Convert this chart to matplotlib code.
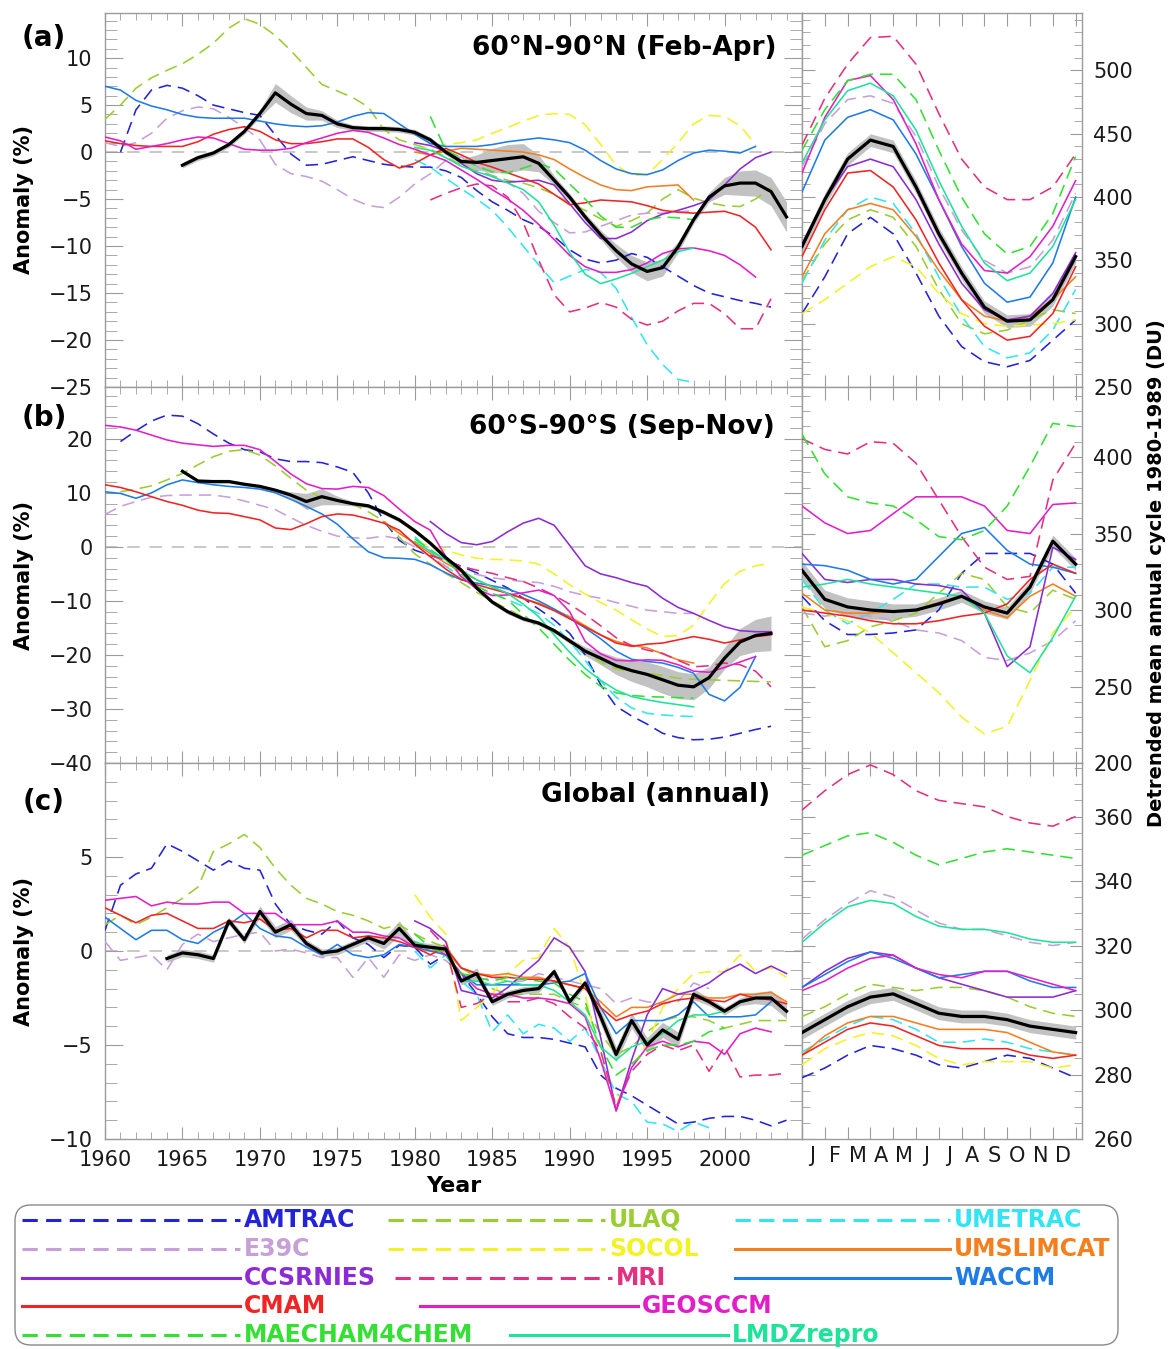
import numpy as np
import matplotlib.pyplot as plt
from matplotlib.patches import FancyBboxPatch
from matplotlib.ticker import MultipleLocator, FixedLocator, NullFormatter

plt.rcParams['font.family'] = ['DejaVu Sans']
plt.rcParams['lines.scale_dashes'] = False

# ---------------------------------------------------------------- data
models = ["AMTRAC", "ULAQ", "UMETRAC", "E39C", "SOCOL", "UMSLIMCAT", "CCSRNIES",
          "MRI", "WACCM", "CMAM", "GEOSCCM", "MAECHAM4CHEM", "LMDZrepro"]
colors = ["#2323d8", "#9acd32", "#33e5f2", "#c7a0d8", "#f2f226", "#f47f1f", "#8c2bd6",
          "#e3307f", "#1f7be6", "#f02424", "#e21ec8", "#33e033", "#1fe39a"]
dashed = [True, True, True, True, True, False, False, True, False, False, False, True, False]

# (a) 60N-90N Feb-Apr anomaly (%), first year of each model series
a_start = [1961, 1960, 1980, 1960, 1980, 1980, 1980, 1981, 1960, 1960, 1960, 1981, 1980]
a_amtrac = [0.0, 4.5, 6.6, 7.1, 6.8, 6.0, 5.0, 4.6, 4.2, 3.9, 1.8, -0.2, -1.4, -1.3, -0.9, -0.5, -0.9, -1.3,
            -1.5, -1.6, -1.6, -2.0, -2.7, -4.1, -5.3, -6.2, -7.2, -7.9, -9.0, -10.4, -11.4, -11.8, -11.5,
            -10.8, -11.2, -12.2, -13.2, -14.2, -15.0, -15.4, -15.8, -16.1, -16.5]
a_ulaq = [3.5, 5.0, 6.8, 7.9, 8.7, 9.4, 10.4, 11.6, 13.2, 14.2, 13.6, 12.4, 10.8, 9.0, 7.2, 6.5, 5.8, 4.8,
          2.4, 1.3, 0.8, 0.3, -0.5, -1.4, -2.0, -2.5, -3.0, -3.3, -3.8, -4.5, -5.4, -6.2, -7.1, -7.9, -7.3,
          -6.5, -5.0, -4.0, -4.9, -5.4, -5.7, -5.8, -5.0, -3.8]
a_umetrac = [-0.8, -1.6, -2.8, -3.9, -5.0, -6.2, -8.0, -10.0, -12.0, -13.9, -13.2, -12.5, -12.8, -14.5,
             -17.6, -20.5, -22.6, -24.2, -24.5]
a_e39c = [1.0, 0.6, 1.0, 2.0, 3.6, 4.4, 4.8, 4.6, 3.7, 2.6, 1.3, -1.3, -2.3, -2.6, -3.1, -4.0, -5.0, -5.7,
          -5.9, -4.8, -3.4, -2.3, -0.9, -0.5, -1.5, -2.6, -3.2, -4.4, -6.3, -7.5, -8.6, -8.5, -7.9, -7.3,
          -6.7, -6.5, -6.5, -6.4, -6.2]
a_socol = [0.3, 0.5, 0.8, 1.0, 1.3, 2.0, 2.6, 3.3, 3.9, 4.1, 4.0, 2.9, 0.8, -1.4, -2.5, -2.4, -0.8, 1.0,
           3.0, 3.9, 3.8, 2.8, 0.8]
a_umslimcat = [0.0, -0.3, 0.1, 0.4, 0.3, 0.2, 0.1, 0.0, -0.3, -0.8, -1.8, -2.7, -3.5, -4.0, -4.1, -3.7,
               -3.6, -3.5, -5.1]
a_ccsrnies = [1.0, 0.7, 0.1, -1.2, -2.3, -3.0, -3.2, -3.1, -3.0, -3.5, -5.5, -7.5, -9.2, -9.2, -8.5, -7.3,
              -6.6, -6.2, -5.7, -5.1, -3.5, -1.8, -0.6, 0.0]
a_mri = [-5.1, -4.4, -3.8, -3.4, -3.6, -4.8, -7.5, -11.5, -15.2, -17.0, -16.6, -16.0, -16.5, -17.8, -18.4,
         -18.0, -16.9, -16.1, -16.1, -17.2, -18.8, -18.8, -15.6]
a_waccm = [7.0, 6.6, 5.5, 4.9, 4.5, 4.0, 3.7, 3.6, 3.6, 3.6, 3.3, 3.0, 2.8, 2.7, 2.8, 3.2, 3.8, 4.2, 4.1,
           3.0, 1.9, 0.9, 0.6, 0.6, 0.6, 0.8, 1.1, 1.3, 1.5, 1.3, 1.0, 0.2, -0.9, -1.8, -2.3, -2.4, -1.9,
           -0.9, -0.1, 0.2, 0.1, -0.1, 0.6]
a_cmam = [1.2, 0.9, 0.7, 0.6, 0.6, 0.6, 1.1, 1.9, 2.4, 2.7, 2.2, 1.3, 0.9, 0.9, 1.1, 1.4, 1.4, 0.5, -0.8,
          -1.7, -1.2, -0.3, 0.4, -0.3, -1.1, -1.6, -2.2, -2.8, -3.4, -4.5, -5.6, -5.4, -5.1, -5.2, -5.3,
          -5.7, -6.2, -6.4, -6.5, -6.4, -6.3, -6.8, -8.0, -10.4]
a_geosccm = [1.6, 1.2, 0.3, 0.6, 0.9, 1.3, 1.6, 1.5, 0.9, 0.3, 0.2, 0.2, 0.4, 1.0, 1.5, 2.0, 2.3, 2.1, 1.5,
             0.8, 0.3, -0.3, -0.9, -1.9, -2.9, -4.0, -5.0, -6.2, -7.7, -9.3, -11.0, -12.2, -12.8, -12.8,
             -12.5, -11.8, -10.8, -10.3, -10.2, -10.5, -11.0, -12.0, -13.3]
a_maecham = [3.8, 0.2, -0.6, -1.5, -2.1, -2.2, -1.7, -1.2, -1.8, -3.4, -5.0, -6.8, -8.0, -8.0, -7.2, -6.9,
             -7.0, -7.2]
a_lmdz = [0.5, 0.2, -0.6, -1.5, -2.1, -2.6, -3.3, -4.0, -5.3, -7.8, -10.7, -13.0, -14.0, -13.5, -12.9,
          -12.2, -11.5, -10.6, -10.2]
a_obs_start = 1965
a_obs = [-1.4, -0.6, -0.1, 0.8, 2.2, 4.1, 6.3, 5.1, 4.1, 3.9, 3.0, 2.6, 2.5, 2.5, 2.4, 2.1, 1.3, 0.0, -1.0,
         -1.1, -0.9, -0.7, -0.5, -1.2, -3.0, -4.8, -6.9, -8.8, -10.5, -11.9, -12.7, -12.3, -10.1, -7.2,
         -4.8, -3.6, -3.3, -3.3, -4.2, -6.9]
a_obs_err = [0.3, 0.3, 0.3, 0.3, 0.3, 0.4, 1.0, 0.9, 0.7, 0.5, 0.4, 0.3, 0.3, 0.3, 0.3, 0.3, 0.3, 0.3, 0.3,
             0.8, 1.3, 1.5, 1.4, 0.9, 0.5, 0.4, 0.4, 0.5, 0.7, 0.9, 1.0, 0.9, 0.6, 0.4, 0.5, 0.9, 1.3, 1.4,
             1.5, 1.6]

# (b) 60S-90S Sep-Nov anomaly (%)
b_start = [1961, 1961, 1980, 1960, 1980, 1978, 1981, 1981, 1960, 1960, 1960, 1980, 1980]
b_amtrac = [19.5, 21.5, 23.3, 24.4, 24.2, 22.8, 20.9, 19.2, 18.0, 17.6, 16.3, 15.8, 15.8, 15.6, 14.8, 13.8,
            10.0, 4.8, 1.2, -0.6, -1.6, -2.4, -3.6, -4.8, -6.2, -7.6, -9.5, -11.5, -13.5, -16.0, -20.0,
            -25.5, -29.5, -31.3, -32.8, -34.5, -35.3, -35.7, -35.6, -35.2, -34.5, -33.8, -33.2]
b_ulaq = [10.2, 10.7, 11.3, 12.4, 13.6, 15.2, 16.7, 17.7, 18.0, 17.0, 15.0, 12.7, 10.5, 9.1, 8.5, 7.9,
          6.5, 4.8, 1.8, -1.3, -3.2, -4.9, -6.6, -8.4, -10.0, -11.5, -13.0, -14.3, -15.8, -17.6, -19.4,
          -21.3, -22.6, -23.1, -23.4, -23.8, -24.3, -24.5, -24.6, -24.7, -24.8, -24.9, -25.0]
b_umetrac = [1.9, -0.8, -3.6, -5.5, -7.3, -8.6, -9.8, -11.0, -12.3, -14.5, -17.5, -21.0, -24.8, -27.8,
             -29.8, -30.8, -31.1, -31.3, -31.4]
b_e39c = [6.0, 7.5, 8.4, 9.2, 9.5, 9.6, 9.6, 9.6, 9.2, 8.5, 7.7, 6.9, 5.4, 4.0, 2.9, 2.0, 1.7, 1.6, 2.0,
          1.5, 0.0, -1.8, -3.6, -4.5, -5.1, -5.7, -6.1, -6.4, -6.6, -7.3, -8.3, -9.0, -9.5, -10.3, -11.0,
          -11.7, -12.0, -12.3, -12.3]
b_socol = [1.0, 0.2, -0.6, -1.5, -2.1, -2.3, -2.4, -2.6, -3.2, -5.0, -7.0, -8.7, -10.3, -11.7, -13.5,
           -15.2, -16.6, -16.4, -14.5, -10.5, -6.8, -4.5, -3.5, -3.0]
b_umslimcat = [4.7, 2.5, 0.7, -1.2, -3.0, -4.6, -6.1, -7.4, -8.6, -9.6, -10.4, -11.6, -12.9, -14.6,
               -16.3, -17.5, -18.2, -18.7, -19.8, -20.9, -21.5]
b_ccsrnies = [4.7, 2.5, 0.8, 0.4, 1.0, 2.8, 4.4, 5.3, 4.0, 0.3, -3.5, -5.0, -5.7, -6.6, -7.3, -9.5, -11.2,
              -12.3, -13.6, -14.8, -15.5, -15.7, -15.7]
b_mri = [-1.5, -2.5, -3.6, -4.3, -4.9, -5.7, -6.4, -7.6, -9.0, -10.6, -12.5, -14.6, -16.8, -18.3, -19.1,
         -19.7, -21.0, -22.2, -22.0, -21.5, -21.8, -23.0, -25.9]
b_waccm = [10.2, 9.9, 9.0, 10.0, 11.5, 12.4, 11.9, 11.5, 11.2, 11.0, 10.7, 10.0, 8.8, 7.5, 6.1, 4.2, 1.5,
           -0.9, -2.0, -2.1, -2.3, -3.3, -4.8, -6.1, -6.7, -7.2, -7.8, -8.8, -10.0, -11.5, -13.2, -15.0,
           -17.0, -19.3, -20.8, -21.2, -21.5, -22.3, -23.4, -27.3, -28.5, -26.0, -20.3]
b_cmam = [11.5, 11.0, 10.2, 9.3, 8.4, 7.7, 6.8, 6.3, 6.2, 5.6, 5.0, 3.5, 3.2, 4.3, 5.6, 6.1, 5.9, 5.2, 4.4,
          3.1, 0.5, -1.8, -4.1, -6.0, -7.0, -7.8, -8.6, -9.5, -10.6, -11.8, -13.3, -14.8, -16.3, -17.8,
          -18.4, -18.0, -17.8, -17.2, -16.6, -17.1, -17.8, -17.2, -16.6, -16.3]
b_geosccm = [22.5, 22.2, 21.6, 20.7, 19.8, 19.2, 18.9, 18.6, 18.8, 18.8, 18.0, 15.8, 13.5, 11.7, 10.8,
             10.7, 11.2, 11.0, 9.5, 7.0, 4.7, 3.1, -1.8, -5.5, -7.8, -9.0, -8.9, -8.5, -8.0, -9.0, -12.0,
             -17.5, -19.8, -21.0, -21.1, -20.9, -21.0, -21.8, -23.0, -23.2, -22.3, -21.3, -20.3]
b_maecham = [1.5, -0.5, -2.4, -5.0, -7.3, -8.6, -9.8, -12.5, -15.0, -18.0, -21.0, -23.6, -25.8, -27.0,
             -27.5, -27.7, -27.8, -27.9, -28.0]
b_lmdz = [1.0, -0.8, -2.4, -4.3, -6.1, -7.4, -8.6, -10.6, -12.9, -16.3, -19.5, -22.5, -24.7, -26.5, -27.7,
          -28.3, -28.8, -29.2, -29.6]
b_obs_start = 1965
b_obs = [14.0, 12.2, 12.1, 12.1, 11.6, 11.2, 10.5, 9.6, 8.4, 9.3, 8.6, 8.0, 7.6, 6.4, 5.0, 3.0, 0.7, -2.0,
         -4.3, -7.6, -10.2, -12.0, -13.3, -14.1, -15.5, -17.4, -19.3, -20.6, -22.0, -22.9, -23.6, -24.6,
         -25.6, -25.9, -24.2, -20.6, -17.6, -16.4, -16.0]
b_obs_err = [0.3, 0.3, 0.3, 0.3, 0.3, 0.3, 0.3, 0.6, 1.5, 1.5, 0.8, 0.4, 0.4, 0.4, 0.4, 0.4, 0.4, 0.4, 0.4,
             0.4, 0.4, 0.4, 0.4, 0.4, 0.4, 0.5, 0.8, 1.2, 1.6, 2.0, 2.3, 2.5, 2.5, 2.4, 2.0, 2.0, 2.5,
             3.0, 3.2]

# (c) global annual anomaly (%)
c_start = [1960, 1960, 1980, 1960, 1980, 1980, 1980, 1981, 1960, 1960, 1960, 1980, 1980]
c_amtrac = [1.1, 3.5, 4.1, 4.4, 5.7, 5.3, 4.8, 4.3, 4.8, 4.4, 4.3, 2.5, 1.4, 1.1, 0.9, 1.6, 0.7, 0.35,
            -0.35, 0.3, 0.2, -0.7, -0.2, -1.2, -2.3, -3.5, -4.4, -4.6, -4.6, -4.7, -4.9, -5.1, -6.6, -7.3,
            -7.7, -8.2, -8.7, -9.2, -9.1, -8.9, -8.8, -8.8, -9.0, -9.3, -9.0]
c_ulaq = [1.4, 1.9, 1.4, 1.8, 2.3, 2.8, 3.4, 5.3, 5.7, 6.2, 5.5, 4.4, 3.5, 2.8, 2.5, 2.1, 1.9, 1.6, 1.2,
          1.4, 0.9, 0.5, 0.2, -0.9, -1.4, -2.0, -2.3, -2.3, -2.3, -2.3, -2.7, -3.0, -4.4, -5.5, -5.1, -4.3,
          -3.7, -3.5, -3.5, -3.7, -4.1, -3.9, -3.7, -3.7, -3.7]
c_umetrac = [0.0, -0.9, -0.2, -1.6, -2.3, -4.3, -3.4, -4.4, -3.9, -4.1, -4.8, -4.1, -5.8, -7.6, -8.0,
             -9.1, -9.2, -9.6, -9.1, -9.4]
c_e39c = [0.5, -0.5, -0.35, -0.2, -1.0, 0.35, 0.9, 0.5, 0.7, 0.9, 1.0, 0.0, 0.1, -0.1, -0.35, -0.35,
          -1.4, -0.35, -1.4, -0.2, -0.5, -0.2, -0.5, -1.2, -1.6, -1.4, -1.6, -1.6, -1.2, -1.4, -1.6, -1.8,
          -2.0, -2.8, -2.5, -2.7, -2.8, -2.7, -1.7, -2.0]
c_socol = [3.0, 1.8, 0.9, -3.7, -3.0, -2.3, -1.2, -0.5, -0.35, 1.2, 0.2, -2.3, -5.8, -8.2, -6.2, -4.9,
           -3.0, -2.0, -1.2, -1.1, -1.1, -0.2, -1.1, -0.9, -1.4]
c_umslimcat = [0.5, 0.0, 0.0, -0.9, -1.2, -1.3, -1.2, -1.4, -1.4, -1.6, -1.8, -2.0, -2.7, -3.5, -3.0,
               -3.0, -2.7, -2.3, -2.3, -2.5, -2.5, -2.3, -2.3, -2.2, -2.7]
c_ccsrnies = [1.6, 1.2, 0.5, -2.1, -2.3, -2.5, -1.95, -1.2, -0.5, 0.7, 0.2, -1.1, -4.6, -8.5, -5.8, -3.4,
              -2.0, -2.3, -2.1, -1.7, -1.1, -0.7, -1.2, -0.8, -1.2]
c_mri = [1.1, 0.2, -3.0, -2.8, -2.3, -2.7, -2.7, -2.5, -2.8, -3.5, -4.1, -5.3, -8.3, -6.4, -5.5, -5.0,
         -5.3, -5.0, -6.4, -5.1, -6.7, -6.6, -6.6, -6.5]
c_waccm = [1.8, 1.2, 0.6, 1.1, 1.1, 0.6, 0.4, 1.0, 1.4, 2.0, 1.2, 0.8, 0.7, 0.2, -0.2, 0.35, -0.2, -0.35,
           -0.2, 0.35, 0.2, 0.0, -0.2, -1.2, -1.8, -1.8, -1.8, -1.8, -1.8, -1.7, -1.6, -1.2, -3.0, -4.4,
           -3.7, -3.7, -3.7, -3.4, -2.7, -3.5, -3.5, -3.5, -3.4, -2.7]
c_cmam = [2.3, 1.9, 1.5, 1.9, 2.0, 1.6, 1.2, 1.2, 1.6, 1.5, 1.7, 1.1, 1.2, 0.7, 1.1, 1.1, 0.7, 0.8, 0.7,
          0.5, 0.2, -0.2, 0.2, -0.9, -1.2, -1.4, -1.4, -1.5, -1.5, -1.6, -1.8, -2.0, -3.0, -3.7, -3.4,
          -3.2, -2.8, -2.6, -2.5, -2.6, -2.7, -2.3, -2.5, -2.6, -2.8]
c_geosccm = [2.7, 2.8, 2.9, 2.4, 2.6, 2.5, 2.5, 2.6, 2.6, 2.0, 2.0, 2.0, 1.4, 1.4, 1.4, 1.6, 1.0, 1.0, 0.8,
             0.7, 0.2, 0.2, -0.2, -1.2, -2.0, -2.3, -2.3, -2.5, -2.5, -2.6, -2.8, -3.5, -5.8, -8.5, -6.2,
             -5.1, -4.8, -5.1, -4.8, -4.9, -5.5, -4.4, -4.1, -4.3]
c_maecham = [0.9, 0.2, -0.2, -1.2, -1.4, -1.6, -1.4, -1.5, -1.6, -1.7, -2.3, -2.7, -5.1, -6.6, -6.0, -5.3,
             -5.0, -5.0, -4.8, -4.3, -4.1]
c_lmdz = [0.5, 0.2, 0.0, -1.6, -1.6, -1.8, -1.6, -1.8, -1.8, -2.1, -2.7, -3.4, -5.1, -5.8, -5.1, -4.8,
          -4.4, -3.7, -3.4, -3.4, -3.2]
c_obs_start = 1964
c_obs = [-0.4, -0.1, -0.2, -0.4, 1.6, 0.6, 2.1, 1.0, 1.4, 0.4, -0.1, 0.0, 0.35, 0.7, 0.4, 1.2, 0.3, 0.2,
         0.1, -1.6, -1.2, -2.7, -2.3, -2.1, -2.0, -1.1, -2.7, -1.7, -3.5, -5.5, -3.7, -5.0, -4.2, -4.7,
         -2.3, -2.7, -3.2, -2.7, -2.5, -2.5, -3.2]
c_obs_err = [0.2, 0.2, 0.2, 0.2, 0.2, 0.2, 0.3, 0.3, 0.3, 0.2, 0.2, 0.2, 0.2, 0.2, 0.3, 0.4, 0.2, 0.2, 0.2,
             0.2, 0.3, 0.2, 0.2, 0.2, 0.2, 0.2, 0.2, 0.2, 0.4, 0.4, 0.4, 0.4, 0.4, 0.4, 0.3, 0.2, 0.2, 0.2,
             0.3, 0.4, 0.4]

# detrended mean annual cycle 1980-1989 (DU), Jan..Dec + Jan
months = ["J", "F", "M", "A", "M", "J", "J", "A", "S", "O", "N", "D"]
ra_amtrac = [308, 337, 371, 384, 371, 340, 306, 282, 270, 266, 271, 287, 303]
ra_ulaq = [334, 363, 382, 390, 384, 361, 327, 300, 292, 295, 303, 311, 308]
ra_umetrac = [332, 366, 390, 400, 395, 371, 337, 306, 282, 273, 277, 295, 327]
ra_e39c = [424, 458, 477, 480, 474, 448, 408, 374, 350, 340, 345, 366, 403]
ra_socol = [308, 319, 332, 345, 353, 345, 324, 308, 300, 298, 299, 300, 303]
ra_umslimcat = [337, 371, 390, 395, 390, 369, 342, 319, 306, 302, 306, 319, 337]
ra_ccsrnies = [363, 398, 424, 430, 424, 398, 363, 332, 311, 303, 306, 324, 356]
ra_mri = [441, 478, 505, 526, 527, 505, 466, 430, 408, 398, 398, 408, 434]
ra_waccm = [404, 445, 463, 469, 461, 434, 398, 361, 332, 317, 321, 348, 400]
ra_cmam = [353, 390, 419, 421, 408, 382, 348, 319, 298, 287, 290, 308, 345]
ra_geosccm = [419, 463, 492, 496, 477, 442, 398, 363, 342, 340, 353, 377, 413]
ra_maecham = [437, 469, 492, 497, 497, 477, 437, 400, 371, 355, 361, 387, 432]
ra_lmdz = [427, 461, 484, 490, 480, 453, 413, 377, 348, 334, 340, 361, 398]
ra_obs = [361, 398, 430, 445, 440, 408, 371, 340, 313, 302, 303, 319, 353]
ra_obs_err = [5, 5, 5, 5, 5, 5, 5, 5, 5, 5, 5, 5, 5]

rb_amtrac = [309, 293, 284, 284, 285, 287, 300, 324, 337, 337, 337, 330, 311]
rb_ulaq = [302, 276, 280, 289, 293, 298, 311, 324, 320, 302, 298, 313, 307]
rb_umetrac = [320, 300, 291, 298, 307, 317, 317, 315, 315, 307, 311, 328, 328]
rb_e39c = [298, 296, 298, 296, 293, 287, 285, 280, 269, 267, 272, 280, 293]
rb_socol = [302, 298, 293, 285, 272, 259, 246, 230, 219, 224, 254, 285, 302]
rb_umslimcat = [311, 300, 298, 298, 299, 300, 305, 309, 300, 295, 309, 317, 309]
rb_ccsrnies = [337, 320, 318, 320, 320, 317, 316, 313, 298, 263, 276, 341, 333]
rb_mri = [412, 405, 402, 410, 409, 396, 372, 348, 328, 320, 322, 385, 409]
rb_waccm = [330, 329, 326, 320, 317, 320, 335, 350, 354, 339, 330, 328, 324]
rb_cmam = [300, 298, 296, 293, 291, 291, 293, 296, 298, 304, 320, 330, 324]
rb_geosccm = [368, 357, 350, 352, 363, 374, 374, 374, 368, 352, 350, 369, 370]
rb_maecham = [415, 389, 374, 370, 368, 359, 348, 346, 352, 368, 394, 422, 420]
rb_lmdz = [315, 317, 320, 317, 315, 313, 311, 309, 298, 270, 259, 282, 309]
rb_obs = [326, 307, 302, 300, 299, 300, 304, 309, 302, 298, 315, 345, 330]
rb_obs_err = [6, 6, 6, 6, 5, 4, 4, 4, 4, 4, 4, 4, 4]

rc_amtrac = [279, 282, 286, 289, 288, 286, 283, 282, 284, 286, 285, 282, 279]
rc_ulaq = [298, 301, 305, 308, 307, 306, 307, 307, 306, 304, 301, 299, 298]
rc_umetrac = [287, 291, 295, 298, 297, 294, 290, 290, 291, 290, 288, 287, 286]
rc_e39c = [322, 328, 333, 337, 335, 331, 327, 325, 325, 323, 321, 320, 321]
rc_socol = [283, 288, 291, 293, 292, 289, 285, 283, 284, 284, 284, 282, 283]
rc_umslimcat = [286, 292, 296, 298, 298, 296, 294, 294, 294, 293, 290, 287, 286]
rc_ccsrnies = [307, 312, 316, 318, 317, 313, 310, 308, 306, 304, 304, 304, 306]
rc_mri = [362, 368, 373, 376, 373, 368, 365, 364, 363, 360, 358, 357, 360]
rc_waccm = [307, 311, 315, 318, 316, 313, 310, 311, 312, 312, 309, 307, 307]
rc_cmam = [286, 290, 294, 296, 295, 292, 289, 288, 288, 288, 286, 285, 286]
rc_geosccm = [306, 309, 313, 316, 317, 313, 311, 310, 312, 312, 310, 308, 306]
rc_maecham = [348, 351, 354, 355, 352, 348, 345, 347, 349, 350, 349, 348, 347]
rc_lmdz = [321, 327, 332, 334, 333, 329, 326, 325, 325, 324, 322, 321, 321]
rc_obs = [293, 297, 301, 304, 305, 302, 299, 298, 298, 297, 295, 294, 293]
rc_obs_err = [2, 2, 2, 2, 2, 2, 2, 2, 2, 2, 2, 2, 2]

a_series = [a_amtrac, a_ulaq, a_umetrac, a_e39c, a_socol, a_umslimcat, a_ccsrnies, a_mri, a_waccm,
            a_cmam, a_geosccm, a_maecham, a_lmdz]
b_series = [b_amtrac, b_ulaq, b_umetrac, b_e39c, b_socol, b_umslimcat, b_ccsrnies, b_mri, b_waccm,
            b_cmam, b_geosccm, b_maecham, b_lmdz]
c_series = [c_amtrac, c_ulaq, c_umetrac, c_e39c, c_socol, c_umslimcat, c_ccsrnies, c_mri, c_waccm,
            c_cmam, c_geosccm, c_maecham, c_lmdz]
ra_series = [ra_amtrac, ra_ulaq, ra_umetrac, ra_e39c, ra_socol, ra_umslimcat, ra_ccsrnies, ra_mri,
             ra_waccm, ra_cmam, ra_geosccm, ra_maecham, ra_lmdz]
rb_series = [rb_amtrac, rb_ulaq, rb_umetrac, rb_e39c, rb_socol, rb_umslimcat, rb_ccsrnies, rb_mri,
             rb_waccm, rb_cmam, rb_geosccm, rb_maecham, rb_lmdz]
rc_series = [rc_amtrac, rc_ulaq, rc_umetrac, rc_e39c, rc_socol, rc_umslimcat, rc_ccsrnies, rc_mri,
             rc_waccm, rc_cmam, rc_geosccm, rc_maecham, rc_lmdz]

# ---------------------------------------------------------------- layout
W, H = 1171, 1349
fig = plt.figure(figsize=(W / 100, H / 100), dpi=100)


def box(x0, y0, x1, y1):
    # pixel box (top-left origin) -> figure fraction
    return [x0 / W, 1 - y1 / H, (x1 - x0) / W, (y1 - y0) / H]


GRAY = "#9c9c9c"
DASH = (0, (9, 5))


def style(ax):
    for s in ax.spines.values():
        s.set_color(GRAY)
        s.set_linewidth(1.0)
    ax.tick_params(which="both", direction="in", top=True, bottom=True, left=True, right=True,
                   color=GRAY, labelsize=15, labelcolor="#1a1a1a")


def draw_left(ax, starts, series, obs_start, obs, err, ylo, yhi, minor, yticks):
    for vals, st, col, dsh in zip(series, starts, colors, dashed):
        yrs = np.arange(st, st + len(vals))
        ax.plot(yrs, vals, color=col, lw=1.15, ls=DASH if dsh else "-", zorder=3)
    yrs = np.arange(obs_start, obs_start + len(obs))
    obs = np.array(obs)
    err = np.array(err)
    ax.fill_between(yrs, obs - err, obs + err, color="#c2c2c2", lw=0, zorder=2)
    ax.plot(yrs, obs, color="black", lw=2.3, zorder=5)
    ax.axhline(0, color="#c4c4c4", lw=1.3, ls=(0, (9, 7)), zorder=1)
    ax.set_xlim(1960, 2005)
    ax.set_ylim(ylo, yhi)
    ax.xaxis.set_major_locator(FixedLocator([1960, 1965, 1970, 1975, 1980, 1985, 1990, 1995, 2000]))
    ax.xaxis.set_minor_locator(MultipleLocator(1))
    ax.yaxis.set_major_locator(FixedLocator(yticks))
    ax.yaxis.set_minor_locator(MultipleLocator(minor))
    style(ax)
    ax.tick_params(axis="y", which="major", length=13, pad=9)
    ax.tick_params(axis="y", which="minor", length=8.5)
    ax.tick_params(axis="x", which="major", length=9, pad=8)
    ax.tick_params(axis="x", which="minor", length=5)


def draw_right(ax, series, obs, err, ylo, yhi, yticks, minor):
    m = np.arange(13)
    for vals, col, dsh in zip(series, colors, dashed):
        ax.plot(m, vals, color=col, lw=1.15, ls=DASH if dsh else "-", zorder=3)
    obs = np.array(obs)
    err = np.array(err)
    ax.fill_between(m, obs - err, obs + err, color="#c2c2c2", lw=0, zorder=2)
    ax.plot(m, obs, color="black", lw=2.3, zorder=5)
    ax.set_xlim(0, 12.28)
    ax.set_ylim(ylo, yhi)
    ax.xaxis.set_major_locator(FixedLocator(range(13)))
    ax.xaxis.set_major_formatter(NullFormatter())
    ax.yaxis.set_major_locator(FixedLocator(yticks))
    ax.yaxis.set_minor_locator(MultipleLocator(minor))
    ax.yaxis.tick_right()
    style(ax)
    ax.tick_params(axis="y", labelleft=False, labelright=True, pad=8)
    ax.tick_params(axis="y", which="major", length=9)
    ax.tick_params(axis="y", which="minor", length=5.5)
    ax.tick_params(axis="x", which="major", length=9)


# left panels
axa = fig.add_axes(box(105, 13, 802, 387))
draw_left(axa, a_start, a_series, a_obs_start, a_obs, a_obs_err, -25, 14.8, 1,
          [-25, -20, -15, -10, -5, 0, 5, 10])
axb = fig.add_axes(box(105, 387, 802, 763))
draw_left(axb, b_start, b_series, b_obs_start, b_obs, b_obs_err, -40, 29.6, 2,
          [-40, -30, -20, -10, 0, 10, 20])
axc = fig.add_axes(box(105, 763, 802, 1139))
draw_left(axc, c_start, c_series, c_obs_start, c_obs, c_obs_err, -10, 10, 1, [-10, -5, 0, 5])
axa.tick_params(axis="x", labelbottom=False)
axb.tick_params(axis="x", labelbottom=False)
axc.set_xlabel("Year", fontsize=16, fontweight="bold", labelpad=4)

# right panels
rxa = fig.add_axes(box(802, 13, 1082, 387))
draw_right(rxa, ra_series, ra_obs, ra_obs_err, 250, 545.4, [250, 300, 350, 400, 450, 500], 10)
rxb = fig.add_axes(box(802, 387, 1082, 763))
draw_right(rxb, rb_series, rb_obs, rb_obs_err, 200, 445.8, [200, 250, 300, 350, 400], 10)
rxc = fig.add_axes(box(802, 763, 1082, 1139))
draw_right(rxc, rc_series, rc_obs, rc_obs_err, 260, 376.6, [260, 280, 300, 320, 340, 360], 5)
rxc.set_xticks([i + 0.45 for i in range(12)], minor=True)
rxc.set_xticklabels(months, minor=True)
rxc.tick_params(axis="x", which="minor", length=0, pad=5, labelsize=15)

# titles and labels
axa.text(0.964, 0.907, "60°N-90°N (Feb-Apr)", transform=axa.transAxes, ha="right", va="center",
         fontsize=19, fontweight="bold")
axb.text(0.961, 0.894, "60°S-90°S (Sep-Nov)", transform=axb.transAxes, ha="right", va="center",
         fontsize=19, fontweight="bold")
axc.text(0.954, 0.915, "Global (annual)", transform=axc.transAxes, ha="right", va="center",
         fontsize=19, fontweight="bold")
for lab, yc in [("(a)", 38), ("(b)", 418), ("(c)", 802)]:
    fig.text(44 / W, 1 - yc / H, lab, ha="center", va="center", fontsize=20, fontweight="bold")
for yc in [200, 575, 951]:
    fig.text(24 / W, 1 - yc / H, "Anomaly (%)", rotation=90, ha="center", va="center",
             fontsize=15, fontweight="bold")
fig.text(1156 / W, 1 - 573 / H, "Detrended mean annual cycle 1980-1989 (DU)", rotation=90,
         ha="center", va="center", fontsize=14, fontweight="bold")

# legend box drawn in pixel coordinates
lax = fig.add_axes([0, 0, 1, 1], facecolor="none")
lax.set_xlim(0, W)
lax.set_ylim(H, 0)
lax.axis("off")
lax.add_patch(FancyBboxPatch((15, 1205), 1103, 140, boxstyle="round,pad=0,rounding_size=16",
                             ec="#8a8a8a", fc="none", lw=1.0))
# (model index, line start, line end, row y)
legend_layout = [(0, 22, 240, 1220), (1, 388, 605, 1220), (2, 735, 950, 1220),
                 (3, 22, 240, 1249), (4, 388, 605, 1249), (5, 735, 950, 1249),
                 (6, 22, 240, 1278), (7, 395, 612, 1278), (8, 735, 950, 1278),
                 (9, 22, 240, 1306), (10, 420, 638, 1306),
                 (11, 22, 240, 1335), (12, 510, 728, 1335)]
for i, x0, x1, y in legend_layout:
    lax.plot([x0, x1], [y, y], color=colors[i], lw=2.2,
             ls=(0, (11, 6)) if dashed[i] else "-")
    lax.text(x1 + 4, y, models[i], color=colors[i], ha="left", va="center", fontsize=17,
             fontweight="bold")

fig.savefig("out.png", dpi=100)
